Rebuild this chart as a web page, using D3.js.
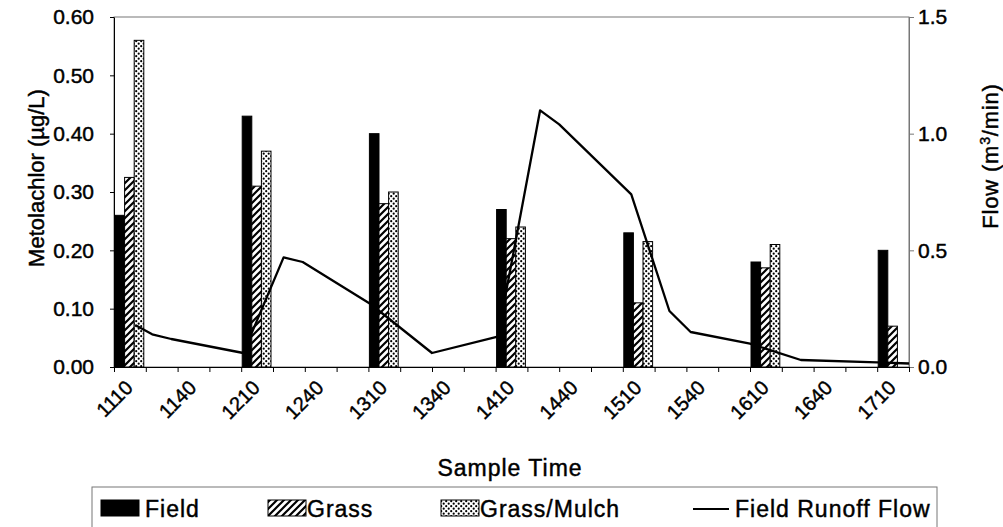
<!DOCTYPE html>
<html><head><meta charset="utf-8">
<script src="https://cdn.jsdelivr.net/npm/d3@7"></script>
<style>
html,body{margin:0;padding:0;background:#fff;}
svg{display:block;font-family:"Liberation Sans",Arial,sans-serif;}
svg text{fill:#000;stroke:#000;stroke-width:0.45px;}
</style></head><body>
<svg id="chart" width="1003" height="527"></svg>
<script>
// Metolachlor concentration at each sampling time (HHMM), by plot treatment
const sampleTimes = ["1110","1210","1310","1410","1510","1610","1710"];
const fieldConc = [0.26, 0.43, 0.40, 0.27, 0.23, 0.18, 0.20];
const grassConc = [0.325, 0.31, 0.28, 0.22, 0.11, 0.17, 0.07];
const mulchConc = [0.56, 0.37, 0.30, 0.24, 0.215, 0.21, null];
// Runoff flow from the field plot (m3/min)
const flowTimes = ["1120","1128","1137","1211","1230","1239","1311","1340","1411","1431","1440","1514","1532","1542","1610","1634","1710","1725"];
const flowValues = [0.18, 0.14, 0.12, 0.06, 0.47, 0.45, 0.27, 0.06, 0.13, 1.10, 1.04, 0.74, 0.24, 0.15, 0.10, 0.03, 0.02, 0.015];
// Axis ticks
const timeTickLabels = ["1110","1140","1210","1240","1310","1340","1410","1440","1510","1540","1610","1640","1710"];
const concTicks = [0, 0.1, 0.2, 0.3, 0.4, 0.5, 0.6];
const flowTicks = [0, 0.5, 1.0, 1.5];
const seriesNames = ["Field", "Grass", "Grass/Mulch"];

const toMin = s => +s.slice(0, 2) * 60 + +s.slice(2);

const svg = d3.select("#chart");
const M = {left: 114, right: 909, top: 17, bottom: 367};

const x = d3.scaleLinear().domain([toMin("1110"), toMin("1725")]).range([M.left, M.right]);
const yL = d3.scaleLinear().domain([0, 0.6]).range([M.bottom, M.top]);
const yR = d3.scaleLinear().domain([0, 1.5]).range([M.bottom, M.top]);
const slot = x(toMin("1125")) - x(toMin("1110"));
const inner = d3.scaleBand().domain(seriesNames).range([1, slot - 2]);

// fill patterns
const defs = svg.append("defs");
const hatch = defs.append("pattern").attr("id", "hatch").attr("patternUnits", "userSpaceOnUse")
  .attr("width", 7).attr("height", 7);
hatch.append("rect").attr("width", 7).attr("height", 7).attr("fill", "#fff");
hatch.append("path").attr("d", "M-1,1 l2,-2 M0,7 l7,-7 M6,8 l2,-2")
  .attr("stroke", "#000").attr("stroke-width", 2.2);
const dots = defs.append("pattern").attr("id", "dots").attr("patternUnits", "userSpaceOnUse")
  .attr("width", 5).attr("height", 5);
dots.append("rect").attr("width", 5).attr("height", 5).attr("fill", "#fff");
dots.append("circle").attr("cx", 1.2).attr("cy", 1.2).attr("r", 1.1).attr("fill", "#000");
dots.append("circle").attr("cx", 3.7).attr("cy", 3.7).attr("r", 1.1).attr("fill", "#000");

const fills = {"Field": "#000", "Grass": "url(#hatch)", "Grass/Mulch": "url(#dots)"};
const seriesData = {"Field": fieldConc, "Grass": grassConc, "Grass/Mulch": mulchConc};

// plot frame
svg.append("rect").attr("x", M.left).attr("y", M.top)
  .attr("width", M.right - M.left).attr("height", M.bottom - M.top)
  .attr("fill", "none").attr("stroke", "#777").attr("stroke-width", 1);

// bars
const bars = [];
seriesNames.forEach(name => {
  seriesData[name].forEach((v, i) => {
    if (v != null) bars.push({name, t: toMin(sampleTimes[i]), v});
  });
});
svg.append("g").selectAll("rect").data(bars).join("rect")
  .attr("x", d => x(d.t) + inner(d.name))
  .attr("y", d => yL(d.v))
  .attr("width", inner.bandwidth())
  .attr("height", d => yL(0) - yL(d.v))
  .attr("fill", d => fills[d.name])
  .attr("stroke", "#000").attr("stroke-width", 1);

// runoff flow line
const flow = flowTimes.map((t, i) => ({t: toMin(t), v: flowValues[i]}));
svg.append("path").datum(flow)
  .attr("fill", "none").attr("stroke", "#000").attr("stroke-width", 2.3)
  .attr("stroke-linejoin", "round")
  .attr("d", d3.line().x(d => x(d.t)).y(d => yR(d.v)));

// axes
const styleAxis = (g, color, size) => {
  g.selectAll(".domain").attr("stroke", color);
  g.selectAll(".tick line").attr("stroke", color);
  g.selectAll("text").attr("font-size", size).attr("font-family", "Liberation Sans, Arial, sans-serif");
};
const gL = svg.append("g").attr("transform", `translate(${M.left},0)`)
  .call(d3.axisLeft(yL).tickValues(concTicks).tickFormat(d3.format(".2f")).tickSize(4).tickSizeOuter(0).tickPadding(16));
styleAxis(gL, "#000", 21);
const gR = svg.append("g").attr("transform", `translate(${M.right},0)`)
  .call(d3.axisRight(yR).tickValues(flowTicks).tickFormat(d3.format(".1f")).tickSize(5).tickSizeOuter(0).tickPadding(4));
styleAxis(gR, "#777", 21);
const minorTicks = d3.range(toMin("1110"), toMin("1725") + 1, 15);
const gB = svg.append("g").attr("transform", `translate(0,${M.bottom})`)
  .call(d3.axisBottom(x).tickValues(minorTicks).tickFormat("").tickSize(5).tickSizeOuter(0));
styleAxis(gB, "#000", 20);

// rotated time labels
svg.append("g").selectAll("text").data(timeTickLabels).join("text")
  .attr("transform", d => `translate(${x(toMin(d)) + 20},389) rotate(-45)`)
  .attr("text-anchor", "end")
  .attr("font-size", 20)
  .text(d => d);

// axis titles
svg.append("text").attr("x", 510).attr("y", 476).attr("text-anchor", "middle")
  .attr("font-size", 23).attr("letter-spacing", 1).text("Sample Time");
svg.append("text").attr("transform", "translate(44,178) rotate(-90)").attr("text-anchor", "middle")
  .attr("font-size", 22).text("Metolachlor (µg/L)");
const rt = svg.append("text").attr("transform", "translate(998,156) rotate(-90)").attr("text-anchor", "middle")
  .attr("font-size", 22).attr("letter-spacing", 0.8);
rt.append("tspan").text("Flow (m");
rt.append("tspan").attr("font-size", 14).attr("dy", -8).text("3");
rt.append("tspan").attr("dy", 8).text("/min)");

// legend
svg.append("rect").attr("x", 92).attr("y", 487).attr("width", 845).attr("height", 60)
  .attr("fill", "#fff").attr("stroke", "#777").attr("stroke-width", 1);
const legendItems = [
  {name: "Field", sx: 101, tx: 145, type: "bar"},
  {name: "Grass", sx: 268, tx: 307, type: "bar"},
  {name: "Grass/Mulch", sx: 441, tx: 480, type: "bar"},
  {name: "Field Runoff Flow", sx: 693, tx: 735, type: "line"}
];
const lg = svg.append("g").selectAll("g").data(legendItems).join("g");
lg.filter(d => d.type === "bar").append("rect")
  .attr("x", d => d.sx).attr("y", 500).attr("width", 38).attr("height", 16)
  .attr("fill", d => fills[d.name]).attr("stroke", "#000");
lg.filter(d => d.type === "line").append("line")
  .attr("x1", d => d.sx).attr("x2", d => d.sx + 36).attr("y1", 509).attr("y2", 509)
  .attr("stroke", "#000").attr("stroke-width", 2);
lg.append("text").attr("x", d => d.tx).attr("y", 517).attr("font-size", 23)
  .attr("letter-spacing", 1).text(d => d.name);
</script>
</body></html>
